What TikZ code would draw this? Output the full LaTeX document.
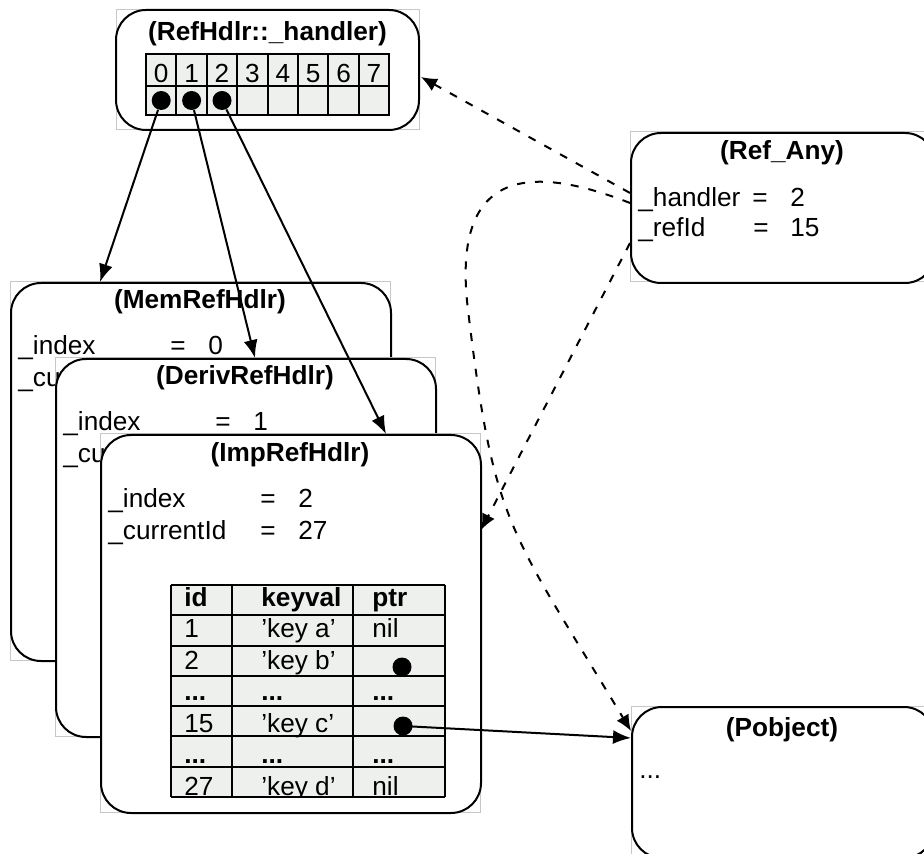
\documentclass[tikz,border=0pt]{standalone}
\usepackage{fontspec}
\setmainfont{Liberation Sans}
\usetikzlibrary{arrows.meta}
\definecolor{cellgray}{RGB}{238,240,238}
\tikzset{
	card/.style={draw,fill=white,line width=1pt,rounded corners=15pt,minimum width=190pt,minimum height=189pt,inner sep=0pt},
	shapebb/.style={draw=black!22,line width=0.5pt},
	title/.style={font=\bfseries,anchor=base,inner sep=0pt},
	field/.style={anchor=base west,inner sep=0pt},
	cell/.style={draw,fill=cellgray,line width=1pt,minimum width=15.2pt,inner sep=0pt},
	grid/.style={line width=1pt},
	dot/.style={circle,fill=black,inner sep=0pt,minimum size=9.5pt},
	ptr/.style={line width=1pt,-{Latex[length=9pt,width=7pt]}},
	refline/.style={line width=1pt,dash pattern=on 4pt off 5pt,-{Latex[length=8pt,width=7pt]}}
}

\begin{document}
\fontsize{13.1}{15}\selectfont
\begin{tikzpicture}[x=0.5pt,y=-0.5pt]
\useasboundingbox (0,0) rectangle (924,854);

% the handler array
\draw[shapebb] (116,10) rectangle (419,130);
\node[card,minimum width=151.5pt,minimum height=60pt] (hdl) at (267.5,70) {};
\node[title] (hdltitle) at (267.5,41) {(RefHdlr::\_handler)};
\foreach \i in {0,...,7}
{
	\node[cell,minimum height=16pt,text height=14.5pt,text depth=1.5pt] (h\i) at (161.2+30.4*\i,70) {\i};
	\node[cell,minimum height=14.5pt] (s\i) at (161.2+30.4*\i,100.5) {};
}
\foreach \i in {0,1,2}
	\node[dot] (d\i) at (s\i) {};

% the three handlers, stacked
\foreach \n/\lx/\ty/\idx/\cur/\hname in {mem/10/282/0/{\_cu}/MemRefHdlr, deriv/55/358/1/{\_cu}/DerivRefHdlr, imp/100/434/2/{\_currentId}/ImpRefHdlr}
{
	\draw[shapebb] (\lx,\ty) rectangle ++(380,378);
	\node[card,anchor=north west] (\n) at (\lx,\ty) {};
	\node[title] at (\lx+190,\ty+27) {(\hname)};
	\node[field] at (\lx+8,\ty+73) {\_index};
	\node[field] at (\lx+160,\ty+73) {=};
	\node[field] at (\lx+198,\ty+73) {\idx};
	\node[field] at (\lx+8,\ty+105) {\cur};
}
\node[field] at (260,539) {=};
\node[field] at (298,539) {27};

% the id table
\fill[cellgray] (171,585) rectangle (445,797);
\begin{scope}
	\clip (171,585) rectangle (445,797);
	\node[field,font=\bfseries] at (184,606) {id};
	\node[field,font=\bfseries] at (261,606) {keyval};
	\node[field,font=\bfseries] at (372,606) {ptr};
	\foreach \r/\a/\b/\c in {1/1/’key a’/nil, 2/2/’key b’/, 4/15/’key c’/, 6/27/’key d’/nil}
	{
		\node[field] at (184,606+31.5*\r) {\a};
		\node[field] at (261,606+31.5*\r) {\b};
		\node[field] at (372,606+31.5*\r) {\c};
	}
	\foreach \r in {3,5}
		\foreach \x in {184,261,372}
			\node[field,font=\bfseries] at (\x,606+31.5*\r) {...};
\end{scope}
\foreach \k in {0,...,7}
	\draw[grid] (171,585+30.29*\k) -- (445,585+30.29*\k);
\foreach \x in {171,232,353,445}
	\draw[grid] (\x,585) -- (\x,797);
\node[dot] (kb) at (402,667) {};
\node[dot] (kc) at (403,726) {};

% Ref_Any
\draw[shapebb] (630,132) rectangle (934,282);
\node[card,minimum width=152pt,minimum height=75pt,anchor=north west] (any) at (630,132) {};
\node[title] at (782,160) {(Ref\_Any)};
\node[field] at (638,207) {\_handler};
\node[field] at (752,207) {=};
\node[field] at (790,207) {2};
\node[field] at (638,237) {\_refId};
\node[field] at (753,237) {=};
\node[field] at (790,237) {15};

% Pobject
\draw[shapebb] (631,706) rectangle (933,857);
\node[card,minimum width=151pt,minimum height=75.5pt,anchor=north west] (pobj) at (631,706) {};
\node[title] at (782,736) {(Pobject)};
\node[field] at (639,778) {...};

% ends of the connectors
\coordinate (memin) at (100,282);
\coordinate (derivin) at (255,358);
\coordinate (impin) at (386,434);
\coordinate (pobjin) at (631,738);
\coordinate (pobjtop) at (631,731);
\coordinate (hdlin) at (421,77);
\coordinate (anyh) at (630,193);
\coordinate (anyr) at (630,203);
\coordinate (anyi) at (630,243);
\coordinate (impr) at (481,530);

\draw[ptr] (d0) -- (memin);
\draw[ptr] (d1) -- (derivin);
\draw[ptr] (d2) -- (impin);
\draw[ptr] (kc.center) -- (pobjin);

\draw[refline] (anyh) -- (hdlin);
\draw[refline] (anyr) .. controls (518,159) and (452,178) .. (468,310) .. controls (494,526) and (508,527) .. (pobjtop);
\draw[refline] (anyi) -- (impr);

\end{tikzpicture}
\end{document}
